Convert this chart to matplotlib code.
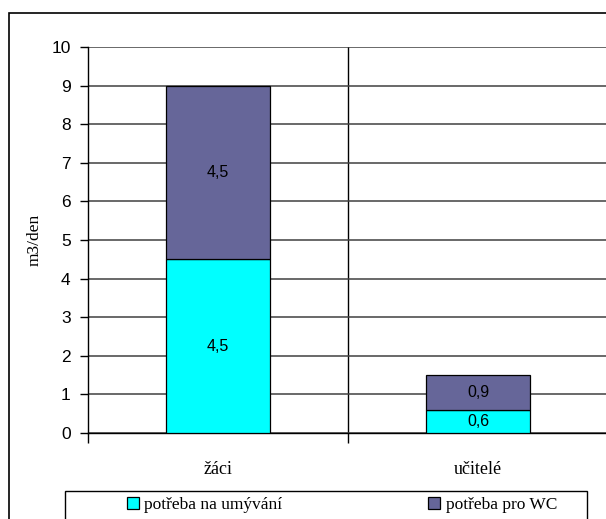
import matplotlib
matplotlib.use("Agg")
import matplotlib.pyplot as plt
from matplotlib.patches import Rectangle

# data
categories = ["žáci", "učitelé"]
umyvani = [4.5, 0.6]
wc = [4.5, 0.9]
labels_umyvani = ["4,5", "0,6"]
labels_wc = ["4,5", "0,9"]

c_umyvani = "#00FFFF"
c_wc = "#666699"
serif = "Liberation Serif"
sans = "Liberation Sans"

W, H = 606, 519
fig = plt.figure(figsize=(W / 100, H / 100), dpi=100)
fig.patch.set_facecolor("white")

# outer chart border (right/bottom edges fall outside the picture)
fig.patches.append(Rectangle((9 / W, -0.1), 1.2, 1 - 13 / H + 0.1,
                             transform=fig.transFigure, fill=False,
                             edgecolor="black", linewidth=1.2))

ax = fig.add_axes([88 / W, 1 - 433 / H, 520 / W, (433 - 47) / H])

x = list(range(len(categories)))
b1 = ax.bar(x, umyvani, width=0.4, color=c_umyvani, edgecolor="black",
            linewidth=0.9, label="potřeba na umývání", zorder=3)
b2 = ax.bar(x, wc, width=0.4, bottom=umyvani, color=c_wc, edgecolor="black",
            linewidth=0.9, label="potřeba pro WC", zorder=3)
ax.bar_label(b1, labels=labels_umyvani, label_type="center",
             fontsize=11.5, family=sans)
ax.bar_label(b2, labels=labels_wc, label_type="center",
             fontsize=11.5, family=sans)

ax.set_xlim(-0.5, 1.5)
ax.set_ylim(0, 10)
ax.set_yticks(range(0, 11))
ax.grid(axis="y", color="#404040", linewidth=1.1, zorder=0)
ax.axvline(0.5, color="black", linewidth=1.0, zorder=1)

# category ticks at boundaries, labels at centres
ax.set_xticks([-0.5, 0.5, 1.5])
ax.set_xticklabels([])
ax.set_xticks(x, minor=True)
ax.set_xticklabels(categories, minor=True, fontsize=13, family=serif)
ax.tick_params(axis="x", which="minor", length=0, pad=20)
ax.tick_params(axis="x", which="major", length=7, width=1, direction="out")
ax.tick_params(axis="y", length=6, width=1, direction="out", pad=6.5,
               labelsize=12.5)
for lbl in ax.get_yticklabels():
    lbl.set_family(sans)

for s in ["top", "right"]:
    ax.spines[s].set_visible(False)
ax.spines["left"].set_linewidth(1.0)
ax.spines["bottom"].set_linewidth(1.0)

ax.set_ylabel("m3/den", fontsize=12.5, family=serif, labelpad=6)

# legend box
fig.patches.append(Rectangle((65 / W, -0.1), (587 - 65) / W, 1 - 491 / H + 0.1,
                             transform=fig.transFigure, fill=False,
                             edgecolor="black", linewidth=1.0))
fig.legend(handles=[b1, b2], loc="center left",
           bbox_to_anchor=(127 / W, 1 - 505 / H), ncol=2, frameon=False,
           prop={"family": serif, "size": 12.5}, handlelength=0.7,
           handleheight=0.7, handletextpad=0.3, columnspacing=8.4,
           borderaxespad=0, borderpad=0)

fig.savefig("out.png", dpi=100)
